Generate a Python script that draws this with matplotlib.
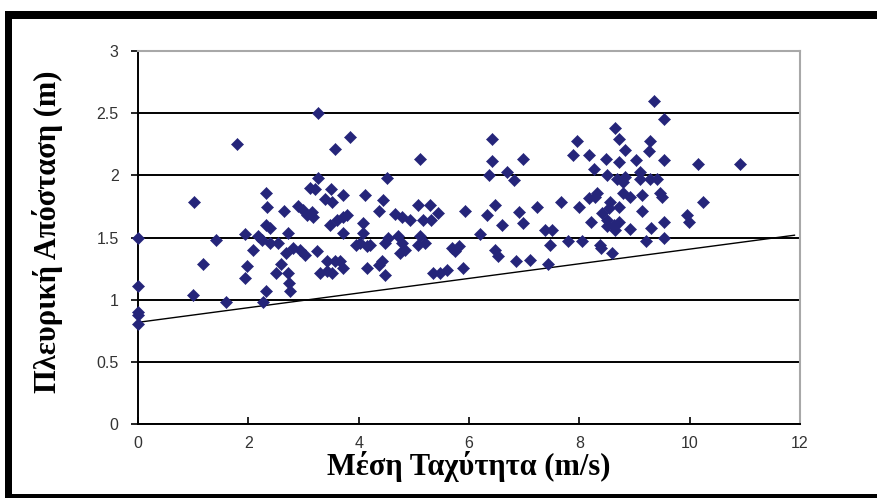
import matplotlib
matplotlib.use("Agg")
import matplotlib.pyplot as plt
from matplotlib.patches import Rectangle
import numpy as np

# mean speed (m/s) and lateral distance (m) for each observation
speed = [
    0, 0, 0, 0, 0,
    0.99, 1.02, 1.18, 1.41, 1.60, 1.79,
    1.94, 1.94, 1.97, 2.09, 2.18, 2.24, 2.26, 2.32,
    2.32, 2.34, 2.32, 2.39, 2.39, 2.54, 2.51, 2.60,
    2.64, 2.69, 2.72, 2.72, 2.74, 2.75, 2.81, 2.90, 2.93,
    2.99, 3.03, 3.06, 3.12, 3.15, 3.18, 3.21, 3.24, 3.27, 3.27,
    3.30, 3.39, 3.42, 3.42, 3.48, 3.49, 3.51, 3.57, 3.58, 3.60,
    3.51, 3.66, 3.72,
    3.72, 3.72, 3.78, 3.72, 3.85,
    3.96, 4.02, 4.08, 4.08, 4.11, 4.15, 4.20, 4.15,
    4.36, 4.36, 4.42, 4.45, 4.47, 4.48, 4.51, 4.54,
    4.66, 4.72, 4.75, 4.78, 4.78, 4.84, 4.93,
    5.08, 5.08, 5.11, 5.11, 5.17, 5.20, 5.29, 5.32, 5.35, 5.44, 5.48, 5.60,
    5.69, 5.75, 5.81, 5.90, 5.93,
    6.20, 6.32, 6.37, 6.42, 6.42, 6.47, 6.47, 6.53, 6.59, 6.69, 6.81,
    6.85, 6.90, 6.98, 6.98, 7.11, 7.23,
    7.38, 7.44, 7.47, 7.50, 7.67, 7.80, 7.88, 7.96, 7.99, 8.05,
    8.17, 8.17, 8.22, 8.26, 8.29, 8.32, 8.38, 8.39, 8.41, 8.49,
    8.50, 8.50, 8.51, 8.53, 8.56, 8.59, 8.62, 8.65, 8.65, 8.68,
    8.71, 8.71, 8.71, 8.71, 8.80, 8.80, 8.82, 8.83, 8.92, 8.92,
    9.03, 9.10, 9.10, 9.14, 9.14, 9.20, 9.26, 9.29, 9.29, 9.30,
    9.36, 9.40, 9.47, 9.50, 9.53, 9.53, 9.53, 9.53,
    9.95, 9.98, 10.15, 10.24, 10.92,
]
distance = [
    1.50, 1.11, 0.905, 0.88, 0.81,
    1.04, 1.79, 1.29, 1.48, 0.98, 2.25,
    1.53, 1.18, 1.27, 1.40, 1.51, 1.48, 0.98, 1.07,
    1.86, 1.745, 1.60, 1.58, 1.455, 1.46, 1.215, 1.29,
    1.715, 1.375, 1.54, 1.215, 1.14, 1.07, 1.415, 1.755, 1.40,
    1.72, 1.36, 1.68, 1.90, 1.71, 1.67, 1.89, 1.39, 2.50, 1.98,
    1.215, 1.81, 1.23, 1.31, 1.60, 1.89, 1.785, 1.31, 2.21, 1.64,
    1.215, 1.31, 1.255,
    1.845, 1.67, 1.68, 1.54, 2.31,
    1.44, 1.455, 1.615, 1.535, 1.845, 1.43, 1.44, 1.255,
    1.715, 1.28, 1.31, 1.80, 1.455, 1.20, 1.98, 1.495,
    1.69, 1.515, 1.375, 1.67, 1.455, 1.40, 1.64,
    1.76, 1.44, 2.13, 1.51, 1.64, 1.455, 1.76, 1.64, 1.215, 1.70, 1.22, 1.24,
    1.42, 1.39, 1.43, 1.255, 1.715,
    1.53, 1.68, 2.00, 2.29, 2.12, 1.765, 1.40, 1.35, 1.60, 2.03, 1.96,
    1.31, 1.705, 1.615, 2.13, 1.32, 1.75,
    1.56, 1.29, 1.44, 1.56, 1.785, 1.47, 2.165, 2.28, 1.745, 1.47,
    2.165, 1.82, 1.63, 2.05, 1.83, 1.86, 1.44, 1.415, 1.70, 2.13,
    1.64, 1.59, 2.005, 1.735, 1.79, 1.38, 1.60, 2.385, 1.56, 1.97,
    2.29, 2.11, 1.75, 1.63, 1.95, 1.86, 2.205, 1.99, 1.83, 1.57,
    2.125, 2.03, 1.97, 1.845, 1.715, 1.47, 2.20, 2.28, 1.97, 1.575,
    2.60, 1.97, 1.86, 1.83, 2.45, 2.125, 1.63, 1.50,
    1.68, 1.63, 2.09, 1.785, 2.09,
]

# lower envelope line
limit_x = [0, 11.9]
limit_y = [0.82, 1.52]

x_ticks = [0, 2, 4, 6, 8, 10, 12]
y_ticks = [0, 0.5, 1, 1.5, 2, 2.5, 3]

W, H = 877, 498
fig = plt.figure(figsize=(W / 100, H / 100), dpi=100)
ax = fig.add_axes([138 / W, 73.6 / H, 662 / W, 373.4 / H])

ax.set_xlim(0, 12)
ax.set_ylim(0, 3)
ax.set_xticks(x_ticks)
ax.set_yticks(y_ticks)
ax.set_yticklabels([f"{v:g}" for v in y_ticks])

ax.yaxis.grid(True, color="black", lw=1.4, zorder=1)
ax.set_axisbelow(True)

ax.plot(limit_x, limit_y, color="black", lw=1.0, zorder=2)
ax.scatter(speed, distance, marker="D", s=38, color="#25257a",
           edgecolors="#25257a", linewidths=0.4, zorder=3, clip_on=False)

for side in ("top", "right"):
    ax.spines[side].set_color("#a8a8a8")
    ax.spines[side].set_linewidth(1.5)
for side in ("left", "bottom"):
    ax.spines[side].set_color("black")
    ax.spines[side].set_linewidth(1.4)

ax.tick_params(axis="y", direction="out", length=5, width=1.2, pad=9,
               labelsize=11.5, labelcolor="#333333")
ax.tick_params(axis="x", direction="in", length=5, width=1.2, pad=8,
               labelsize=11.5, labelcolor="#333333")
for lbl in ax.get_xticklabels() + ax.get_yticklabels():
    lbl.set_family("Liberation Sans")

ax.set_xlabel("Μέση Ταχύτητα (m/s)", family="Liberation Serif",
              fontweight="bold", fontsize=22, va="center")
ax.set_ylabel("Πλευρική Απόσταση (m)", family="Liberation Serif",
              fontweight="bold", fontsize=22, va="center")
ax.xaxis.set_label_coords(0.5, -0.112)
ax.yaxis.set_label_coords(-0.136, 0.515)

# black frame around the figure
for x0, y0, w, h in [(5, 479, W - 5, 8), (5, 0, 7, 487), (5, 0, W - 5, 4)]:
    fig.add_artist(Rectangle((x0 / W, y0 / H), w / W, h / H,
                             transform=fig.transFigure, color="black",
                             lw=0))

fig.savefig("out.png", dpi=100)
